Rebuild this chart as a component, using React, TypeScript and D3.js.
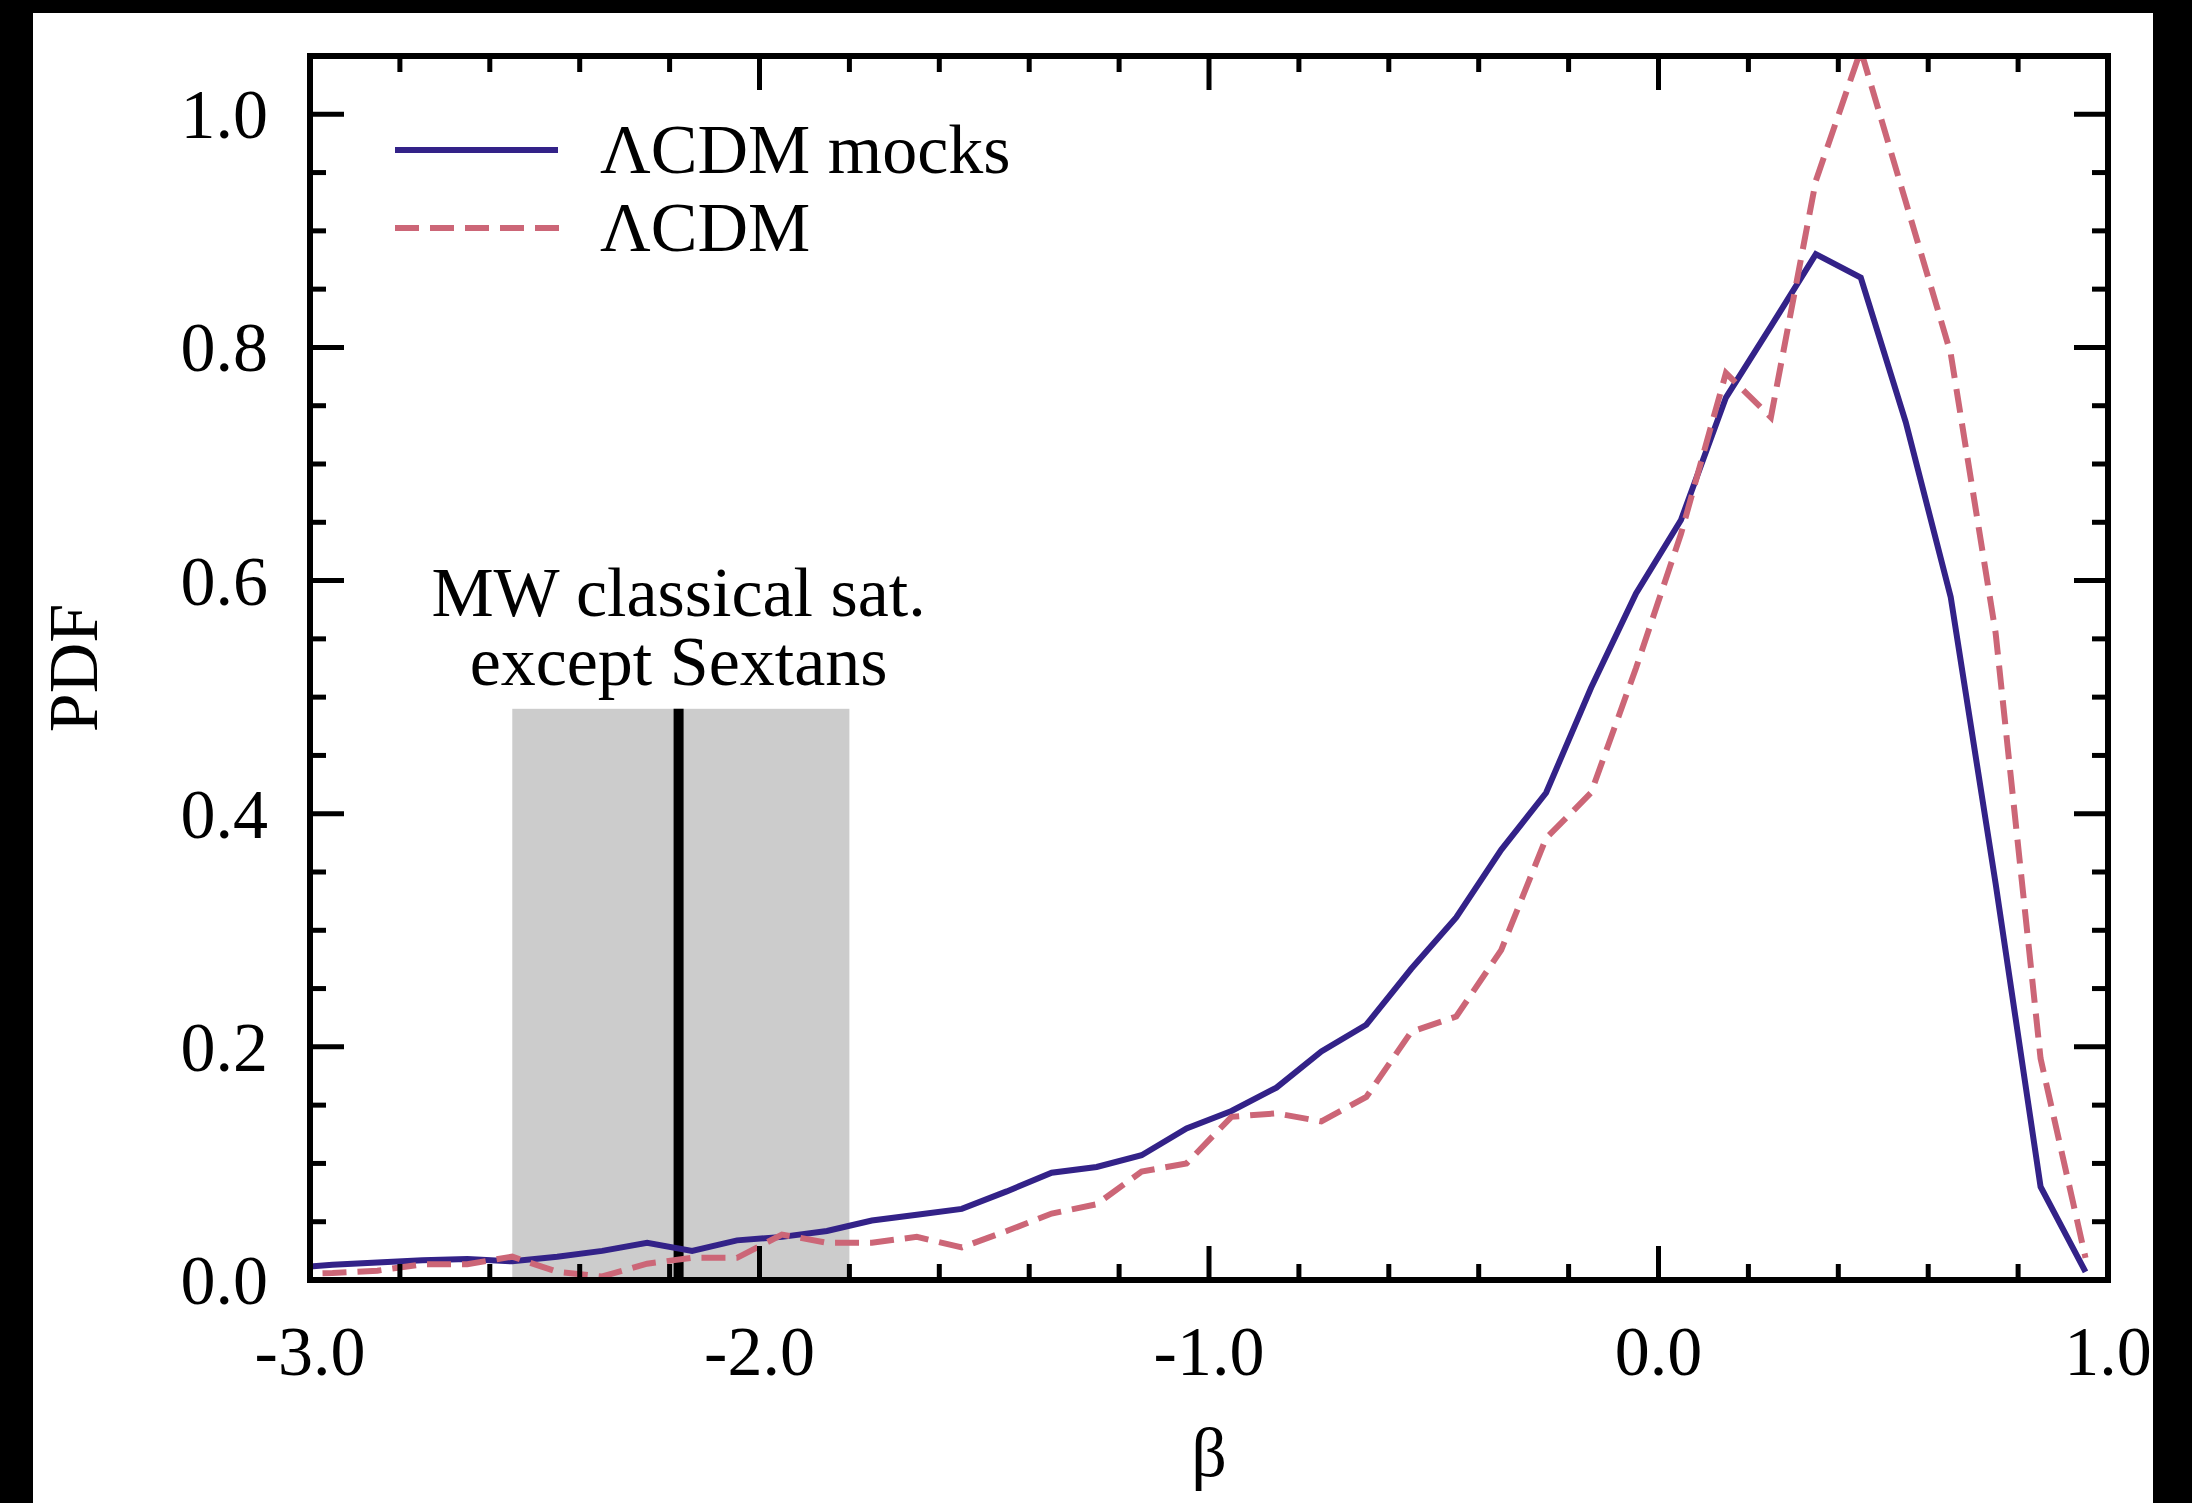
import React from "react";
import * as d3 from "d3";

const betaBins = [
  -3.05, -2.95, -2.85, -2.75, -2.65, -2.55, -2.45, -2.35, -2.25, -2.15, -2.05,
  -1.95, -1.85, -1.75, -1.65, -1.55, -1.45, -1.35, -1.25, -1.15, -1.05,
  -0.95, -0.85, -0.75, -0.65, -0.55, -0.45, -0.35, -0.25, -0.15, -0.05,
  0.05, 0.15, 0.25, 0.35, 0.45, 0.55, 0.65, 0.75, 0.85, 0.95,
];

const pdfMocks = [
  0.010, 0.013, 0.015, 0.017, 0.018, 0.016, 0.020, 0.025, 0.032, 0.025, 0.034,
  0.037, 0.042, 0.051, 0.056, 0.061, 0.076, 0.092, 0.097, 0.107, 0.130,
  0.145, 0.165, 0.196, 0.219, 0.267, 0.311, 0.369, 0.418, 0.508, 0.589,
  0.652, 0.757, 0.818, 0.880, 0.860, 0.736, 0.586, 0.340, 0.080, 0.007,
];

const pdfLCDM = [
  0.005, 0.006, 0.008, 0.0135, 0.0135, 0.020, 0.007, 0.003, 0.014, 0.019, 0.019,
  0.039, 0.032, 0.032, 0.037, 0.028, 0.042, 0.057, 0.065, 0.093, 0.100,
  0.140, 0.143, 0.136, 0.157, 0.213, 0.226, 0.283, 0.379, 0.418, 0.525,
  0.640, 0.778, 0.740, 0.943, 1.055, 0.925, 0.795, 0.555, 0.190, 0.019,
];

const xMajorTicks = [-3, -2, -1, 0, 1];
const xTickLabels = ["-3.0", "-2.0", "-1.0", "0.0", "1.0"];
const yMajorTicks = [0, 0.2, 0.4, 0.6, 0.8, 1.0];
const yTickLabels = ["0.0", "0.2", "0.4", "0.6", "0.8", "1.0"];

const bandRange = [-2.55, -1.8];
const bandTop = 0.49;
const mwBeta = -2.18;

const legendLabels = ["\u039BCDM mocks", "\u039BCDM"];
const annotationLines = ["MW classical sat.", "except Sextans"];

const W = 2192;
const H = 1503;
const L = 310, R = 2108, T = 56, B = 1280;
const FONT = "'Liberation Serif', 'Times New Roman', Times, serif";
const FS = 70;
const BLUE = "#332288";
const ROSE = "#CC6677";

export default function App() {
  const x = d3.scaleLinear().domain([-3, 1]).range([L, R]);
  const y = d3.scaleLinear().domain([0, 1.05]).range([B, T]);

  const xMinor = d3.range(-3, 1.0001, 0.2).filter(
    (v) => !xMajorTicks.some((m) => Math.abs(m - v) < 1e-6)
  );
  const yMinor = d3.range(0, 1.0501, 0.05).filter(
    (v) => !yMajorTicks.some((m) => Math.abs(m - v) < 1e-6)
  );

  const line = d3
    .line<number>()
    .x((_, i) => x(betaBins[i]))
    .y((d) => y(d));

  const majLen = 34;
  const minLen = 16;
  const tickW = 5;
  const LW = 6;

  return (
    <svg
      width={W}
      height={H}
      style={{ position: "absolute", left: 0, top: 0, background: "#fff" }}
      fontFamily={FONT}
    >
      <defs>
        <clipPath id="plotclip">
          <rect x={L} y={T} width={R - L} height={B - T} />
        </clipPath>
      </defs>
      <rect x={0} y={0} width={W} height={H} fill="#fff" />

      {/* grey band */}
      <rect
        x={x(bandRange[0])}
        y={y(bandTop)}
        width={x(bandRange[1]) - x(bandRange[0])}
        height={y(0) - y(bandTop)}
        fill="#cccccc"
      />
      <line
        x1={x(mwBeta)}
        x2={x(mwBeta)}
        y1={y(bandTop)}
        y2={y(0)}
        stroke="#000"
        strokeWidth={10}
      />

      {/* annotation */}
      {annotationLines.map((t, i) => (
        <text
          key={t}
          x={x(mwBeta)}
          y={616 + i * 69}
          fontSize={FS}
          textAnchor="middle"
          fill="#000"
        >
          {t}
        </text>
      ))}

      {/* lines */}
      <g clipPath="url(#plotclip)">
        <path
          d={line(pdfMocks) || ""}
          fill="none"
          stroke={BLUE}
          strokeWidth={LW}
          strokeLinejoin="miter"
        />
        <path
          d={line(pdfLCDM) || ""}
          fill="none"
          stroke={ROSE}
          strokeWidth={LW}
          strokeDasharray="24 11"
          strokeLinejoin="miter"
        />
      </g>

      {/* legend */}
      <line x1={395} x2={558} y1={150} y2={150} stroke={BLUE} strokeWidth={LW} />
      <line
        x1={395}
        x2={560}
        y1={228}
        y2={228}
        stroke={ROSE}
        strokeWidth={LW}
        strokeDasharray="24 11"
      />
      {legendLabels.map((t, i) => (
        <text key={t} x={600} y={173 + i * 78} fontSize={FS} fill="#000">
          {t}
        </text>
      ))}

      {/* ticks */}
      <g stroke="#000" strokeWidth={tickW}>
        {xMajorTicks.map((v) => (
          <g key={"xm" + v}>
            <line x1={x(v)} x2={x(v)} y1={B} y2={B - majLen} />
            <line x1={x(v)} x2={x(v)} y1={T} y2={T + majLen} />
          </g>
        ))}
        {xMinor.map((v) => (
          <g key={"xn" + v}>
            <line x1={x(v)} x2={x(v)} y1={B} y2={B - minLen} />
            <line x1={x(v)} x2={x(v)} y1={T} y2={T + minLen} />
          </g>
        ))}
        {yMajorTicks.map((v) => (
          <g key={"ym" + v}>
            <line x1={L} x2={L + majLen} y1={y(v)} y2={y(v)} />
            <line x1={R} x2={R - majLen} y1={y(v)} y2={y(v)} />
          </g>
        ))}
        {yMinor.map((v) => (
          <g key={"yn" + v}>
            <line x1={L} x2={L + minLen} y1={y(v)} y2={y(v)} />
            <line x1={R} x2={R - minLen} y1={y(v)} y2={y(v)} />
          </g>
        ))}
      </g>

      {/* frame */}
      <rect
        x={L}
        y={T}
        width={R - L}
        height={B - T}
        fill="none"
        stroke="#000"
        strokeWidth={6}
      />

      {/* tick labels */}
      {xMajorTicks.map((v, i) => (
        <text
          key={"xl" + v}
          x={x(v)}
          y={1375}
          fontSize={FS}
          textAnchor="middle"
          fill="#000"
        >
          {xTickLabels[i]}
        </text>
      ))}
      {yMajorTicks.map((v, i) => (
        <text
          key={"yl" + v}
          x={268}
          y={y(v) + 24}
          fontSize={FS}
          textAnchor="end"
          fill="#000"
        >
          {yTickLabels[i]}
        </text>
      ))}

      {/* axis titles */}
      <text x={(L + R) / 2} y={1476} fontSize={FS} textAnchor="middle" fill="#000">
        β
      </text>
      <text
        transform={`translate(97, ${(T + B) / 2}) rotate(-90)`}
        fontSize={FS}
        textAnchor="middle"
        fill="#000"
      >
        PDF
      </text>

      {/* black border strips */}
      <rect x={0} y={0} width={33} height={H} fill="#000" />
      <rect x={0} y={0} width={W} height={13} fill="#000" />
      <rect x={2153} y={0} width={W - 2153} height={H} fill="#000" />
    </svg>
  );
}
